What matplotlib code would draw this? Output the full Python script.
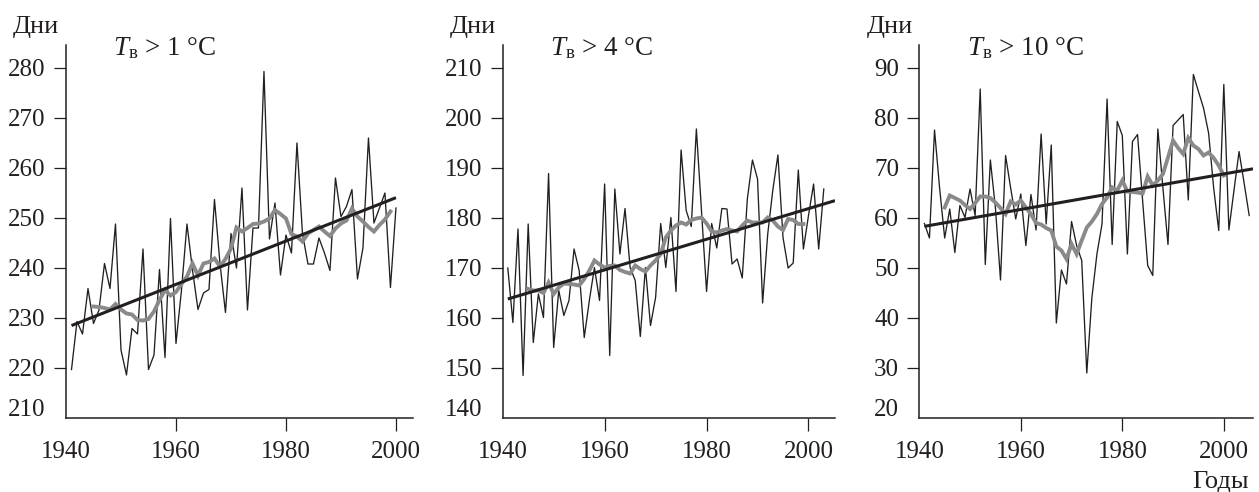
import numpy as np
import matplotlib.pyplot as plt

plt.rcParams['font.family'] = ['Liberation Serif', 'DejaVu Serif']
plt.rcParams['mathtext.fontset'] = 'custom'
plt.rcParams['mathtext.rm'] = 'Liberation Serif'
plt.rcParams['mathtext.it'] = 'Liberation Serif:italic'

INK = '#231f20'
GREY = '#8a8a8a'

# --- data ------------------------------------------------------------
# T > 1 C : annual values 1941-2000, smoothed curve 1945-1999
days_1 = [219.7, 229.3, 226.8, 235.9, 228.9, 231.6, 240.9, 235.9, 248.8, 223.6,
          218.6, 227.9, 226.8, 243.8, 219.7, 222.6, 239.7, 222.1, 249.9, 224.9,
          235.6, 248.8, 239.6, 231.7, 235.0, 235.7, 253.7, 240.9, 231.1, 246.9,
          240.0, 256.0, 231.6, 248.0, 248.0, 279.3, 245.8, 253.0, 238.6, 246.6,
          243.0, 265.0, 246.9, 240.8, 240.8, 246.0, 243.0, 239.5, 258.0, 250.3,
          252.3, 255.7, 237.8, 244.0, 266.0, 249.0, 252.0, 255.0, 236.1, 252.0]
smooth_1 = [232.3, 232.2, 232.0, 231.7, 232.8, 231.7, 230.9, 230.7, 229.6, 229.5,
            229.8, 231.3, 233.6, 235.6, 234.5, 235.2, 236.8, 238.3, 240.9, 238.5,
            240.9, 241.2, 241.9, 240.3, 241.8, 243.9, 248.1, 247.3, 248.0, 248.8,
            248.9, 249.3, 249.9, 251.6, 250.8, 249.9, 246.8, 246.3, 245.3, 246.9,
            247.6, 248.3, 247.3, 246.4, 247.9, 248.9, 249.5, 251.9, 250.3, 249.3,
            248.2, 247.3, 248.6, 249.7, 251.3]

# T > 4 C : annual values 1941-2003, smoothed curve 1945-1999
days_4 = [170.0, 159.1, 177.8, 148.5, 178.8, 155.1, 164.8, 160.1, 188.9, 154.1,
          165.5, 160.5, 163.5, 173.8, 169.5, 156.1, 163.5, 170.1, 163.5, 186.8,
          152.5, 185.8, 172.8, 181.9, 170.1, 167.5, 156.3, 170.1, 158.5, 164.1,
          178.9, 170.1, 180.1, 165.3, 193.6, 181.5, 178.3, 197.8, 181.5, 165.3,
          178.9, 174.0, 181.9, 181.8, 170.8, 171.8, 168.0, 183.8, 191.6, 187.8,
          163.0, 176.8, 185.6, 192.6, 176.1, 170.0, 171.0, 189.6, 173.8, 180.5,
          186.8, 173.8, 185.8]
smooth_4 = [165.8, 165.5, 165.5, 165.0, 167.1, 164.8, 166.1, 166.9, 166.8, 166.7,
            166.5, 167.8, 169.5, 171.5, 170.7, 170.1, 170.4, 170.5, 169.6, 169.2,
            168.9, 170.5, 169.8, 169.3, 170.5, 171.5, 172.8, 176.1, 177.5, 178.5,
            179.1, 178.7, 179.6, 179.9, 180.1, 178.9, 177.3, 177.1, 177.5, 177.8,
            177.5, 177.3, 178.5, 179.5, 179.1, 179.1, 179.1, 180.1, 179.5, 178.3,
            177.6, 179.8, 179.6, 178.8, 178.8]

# T > 10 C : annual values 1941-2005, smoothed curve 1945-2000
days_10 = [58.9, 56.0, 77.6, 66.0, 56.0, 61.8, 53.1, 62.5, 60.1, 65.8,
           60.5, 85.8, 50.7, 71.6, 62.0, 47.6, 72.5, 66.0, 59.8, 64.8,
           54.5, 64.7, 57.6, 76.8, 58.8, 74.6, 39.0, 49.6, 46.8, 59.3,
           54.5, 51.5, 29.0, 44.0, 52.8, 58.8, 83.8, 54.7, 79.3, 76.5,
           52.8, 75.3, 76.7, 63.5, 50.5, 48.5, 77.8, 66.0, 54.7, 78.5,
           79.6, 80.7, 63.6, 88.7, 85.3, 82.0, 77.0, 66.0, 57.5, 86.7,
           57.6, 65.5, 73.3, 67.0, 60.5]
smooth_10 = [62.1, 64.5, 64.0, 63.5, 62.6, 61.8, 63.0, 64.3, 64.3, 64.0,
             63.1, 62.0, 60.8, 63.3, 62.7, 63.5, 62.1, 60.8, 59.0, 58.7,
             58.0, 57.5, 54.3, 53.5, 51.8, 54.8, 52.8, 55.5, 58.1, 59.3,
             60.8, 62.8, 64.1, 66.1, 65.5, 67.5, 65.3, 65.2, 65.1, 64.9,
             68.3, 66.5, 67.5, 68.8, 72.1, 75.5, 74.0, 72.8, 76.0, 74.5,
             73.8, 72.5, 73.1, 72.0, 70.5, 68.5]

thresholds = ['1', '4', '10']
year_ticks = [1940, 1960, 1980, 2000]

panels = [
    # annual, smoothed, first smoothed year, y ticks, axes px (left, right), x range, trend to axis end
    dict(days=days_1, smooth=smooth_1, s0=1945, yt=np.arange(210, 281, 10),
         px=(66, 413), xlim=(1940, 2003.1), to_end=False),
    dict(days=days_4, smooth=smooth_4, s0=1945, yt=np.arange(140, 211, 10),
         px=(502.7, 835), xlim=(1940, 2005.2), to_end=True),
    dict(days=days_10, smooth=smooth_10, s0=1945, yt=np.arange(20, 91, 10),
         px=(919.3, 1253), xlim=(1940, 2005.75), to_end=True),
]

W, H = 1259, 492
TOP, BOTTOM = 45, 418
FS = 18
fig = plt.figure(figsize=(W / 100, H / 100), dpi=100)

axes = []
for p, thr in zip(panels, thresholds):
    l, r = p['px']
    ax = fig.add_axes([l / W, 1 - BOTTOM / H, (r - l) / W, (BOTTOM - TOP) / H])
    axes.append(ax)

    years = np.arange(1941, 1941 + len(p['days']))
    syears = np.arange(p['s0'], p['s0'] + len(p['smooth']))
    ax.plot(years, p['days'], color=INK, lw=0.95, zorder=2)
    ax.plot(syears, p['smooth'], color=GREY, lw=2.8, zorder=3,
            solid_joinstyle='miter')

    k, b = np.polyfit(years, p['days'], 1)
    tx = np.array([years[0], p['xlim'][1] if p['to_end'] else years[-1]])
    ax.plot(tx, k * tx + b, color=INK, lw=2.2, zorder=4, solid_capstyle='butt')

    ymin = p['yt'][0]
    ax.set_xlim(*p['xlim'])
    ax.set_ylim(ymin, p['yt'][-1] + 4.6)
    ax.set_xticks(year_ticks)
    ax.set_yticks(p['yt'][1:])

    for s in ['top', 'right']:
        ax.spines[s].set_visible(False)
    for s in ['left', 'bottom']:
        ax.spines[s].set_linewidth(1.1)
        ax.spines[s].set_color(INK)
    ax.tick_params(axis='x', direction='out', length=9.5, width=0.9, pad=7,
                   labelsize=FS, colors=INK)
    ax.tick_params(axis='y', direction='out', length=8.6, width=0.9, pad=6,
                   labelsize=FS, colors=INK)
    # no tick mark at 1940 (it sits on the y axis)
    ax.xaxis.get_major_ticks()[0].tick1line.set_visible(False)

    # lowest y value is written without a tick, a little above the x axis
    ax.annotate(str(ymin), xy=(0, 0), xycoords='axes fraction',
                xytext=(-14.5, 5.5), textcoords='offset points',
                ha='right', va='center', fontsize=FS, color=INK)

    ax.annotate('Дни', xy=(0, 1), xycoords='axes fraction',
                xytext=(-38, 13), textcoords='offset points',
                ha='left', va='center', fontsize=19, color=INK)
    ax.annotate(r'$T_{\mathrm{в}}$ > ' + thr + ' °C', xy=(0, 1),
                xycoords='axes fraction', xytext=(34, -7),
                textcoords='offset points', ha='left', va='baseline',
                fontsize=19.5, color=INK)

axes[-1].annotate('Годы', xy=(1, 0), xycoords='axes fraction',
                  xytext=(-3, -46), textcoords='offset points',
                  ha='right', va='center', fontsize=19, color=INK)

fig.savefig('out.png', dpi=100, facecolor='white')
